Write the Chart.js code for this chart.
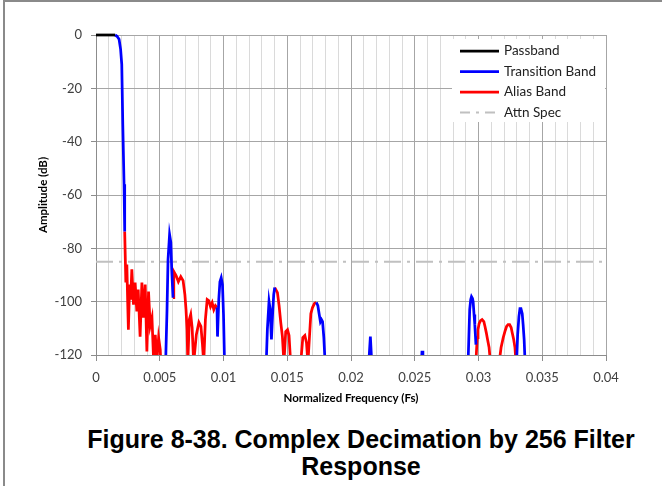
<!DOCTYPE html>
<html>
<head>
<meta charset="utf-8">
<script src="https://cdn.jsdelivr.net/npm/chart.js@4.4.1/dist/chart.umd.min.js"></script>
<style>
    html, body { margin: 0; padding: 0; width: 662px; height: 486px; overflow: hidden; background: #fff; }
    #frame { position: absolute; left: 3px; top: 0; width: 760px; height: 486px; border-left: 2px solid #8a8a8a; border-top: 2px solid #8a8a8a; }
    #chart { position: absolute; left: 0; top: 0; }
    #caption { position: absolute; left: 0; top: 426px; width: 722px; text-align: center; color: #000;
        font: bold 25px "Liberation Sans", Arial, sans-serif; line-height: 27px; }
</style>
</head>
<body>
<div id="frame"></div>
<canvas id="chart" width="662" height="410"></canvas>
<div id="caption">Figure 8-38. Complex Decimation by 256 Filter<br>Response</div>
<script>
// --- dados (frequência normalizada em Fs, amplitude em dB) ---
const xTickLabels = ['0', '0.005', '0.01', '0.015', '0.02', '0.025', '0.03', '0.035', '0.04'];

const passFreq = [0, 0.0015];
const passDb = [0, 0];

// null separa os trechos
const transFreq = [
    0.0015, 0.00165, 0.00181, 0.00193, 0.00202, 0.0021, 0.0022, 0.00225, null,
    0.00545, 0.00557, 0.00565, 0.00577, 0.00587, 0.00594, 0.00604, null,
    0.00949, 0.00953, 0.00963, 0.00972, 0.00982, 0.00992, 0.01, 0.01009, null,
    0.01334, 0.01344, 0.01357, 0.01366, 0.01376, 0.01386, 0.01394, 0.01402, null,
    0.01728, 0.0174, 0.0175, 0.0176, 0.01768, 0.01777, 0.01787, 0.01799, null,
    0.02137, 0.02152, 0.02165, null,
    0.0255, 0.02557, 0.02564, null,
    0.02917, 0.02925, 0.02931, 0.02939, 0.02945, 0.02953, 0.02958, 0.02965, 0.02971, 0.0298, null,
    0.03297, 0.03307, 0.03317, 0.03325, 0.03333, 0.03343, 0.0335, 0.03358, 0.03367
];
const transDb = [
    0, -0.5, -1.6, -5.4, -11, -33.5, -56, -73.7, null,
    -125, -103, -84.2, -74.8, -77.8, -88, -98.5, null,
    -102.2, -113.1, -99.2, -92.5, -91, -93.6, -104.8, -125, null,
    -125, -110.5, -99.9, -102.9, -114.2, -103.7, -97.3, -94.7, null,
    -100.3, -101.5, -104.5, -107.5, -106.7, -107.5, -113.5, -125, null,
    -125, -113.1, -125, null,
    -125, -118.4, -125, null,
    -125, -112.4, -103, -99.2, -98.1, -98.8, -100, -104.8, -108.6, -116.1, null,
    -125, -112.4, -105.6, -102.6, -102.6, -104.5, -108.6, -114.2, -125
];

const aliasFreq = [
    0.00225, 0.00234, 0.00242, 0.00248, 0.00254, 0.00264, 0.00272, 0.00281, 0.00294, 0.00307,
    0.0032, 0.00331, 0.00346, 0.0036, 0.00372, 0.00386, 0.00399, 0.00412, 0.00425, 0.00439,
    0.00451, 0.00465, 0.00478, 0.00491, 0.00504, 0.0051, null,
    0.00604, 0.0061, 0.00628, 0.00646, 0.00665, 0.00683, 0.00697, 0.00706, 0.00714, 0.0072,
    0.00732, 0.00743, 0.00754, 0.00766, 0.00787, 0.00807, 0.00823, 0.00835, 0.00845, 0.00858,
    0.00872, 0.00884, 0.00898, 0.00911, 0.00924, 0.00937, 0.00949, null,
    0.01402, 0.01423, 0.01436, 0.01449, 0.01462, 0.01474, 0.01488, 0.01502, 0.01514, 0.01528,
    0.01567, 0.01604, 0.01622, 0.01638, 0.01651, 0.01662, 0.01673, 0.01685, 0.01698, 0.01713, 0.01728, null,
    0.02978, 0.0299, 0.02996, 0.03005, 0.03016, 0.03028, 0.03042, 0.03051, 0.03061, 0.03071,
    0.03083, 0.03096, 0.03128, 0.03159, 0.03177, 0.03194, 0.03209, 0.0322, 0.03232, 0.03244,
    0.03256, 0.03264, 0.03276, 0.03286, 0.03296
];
const aliasDb = [
    -73.7, -92.8, -86.1, -99.2, -110.5, -93.6, -99.2, -87.9, -101.1, -92.8,
    -103.7, -95.5, -113.1, -92.8, -106, -93.6, -118.7, -96.2, -109, -106,
    -121, -112.4, -122, -113.5, -118, -125, null,
    -98.5, -88.7, -90.2, -92.5, -90.6, -92.1, -97.3, -103, -110.5, -123,
    -106.7, -104.8, -109.7, -123, -112.4, -107.8, -109.3, -116.1, -123, -106.7,
    -99.2, -99.6, -101.9, -100.4, -103, -101.5, -102.2, null,
    -94.7, -96.6, -101.5, -107.8, -113.1, -123, -111.2, -110.5, -112.7, -124,
    -140, -124, -113.5, -112.7, -115.4, -123, -114.2, -104.5, -102.2, -100.7, -100.3, null,
    -124, -113.5, -110.5, -108.2, -107.1, -106.7, -107.5, -109.3, -111.6, -114.2,
    -117.2, -124, -140, -124, -117.2, -113.5, -110.9, -109.3, -108.6, -108.6,
    -109.7, -111.6, -114.2, -117.2, -124
];

const specFreq = [0, 0.04];
const specDb = [-85, -85];

function toPoints(freq, db) {
    return freq.map((f, i) => ({ x: f, y: db[i] }));
}

function isMajor(v) {
    return Math.round(v * 1000) % 5 === 0;
}

// legenda desenhada dentro da área do gráfico, como no original
const legendBox = {
    id: 'legendBox',
    afterDraw(chart) {
        const ctx = chart.ctx;
        const area = chart.chartArea;
        const w = 153, h = 83;
        const x0 = area.right - w - 1, y0 = area.top + 4;
        ctx.save();
        ctx.fillStyle = '#ffffff';
        ctx.fillRect(x0, y0, w, h);
        ctx.font = '13.5px Lato';
        ctx.textBaseline = 'middle';
        chart.data.datasets.forEach((ds, i) => {
            const y = y0 + 12 + i * 20.5;
            ctx.strokeStyle = ds.borderColor;
            ctx.lineWidth = ds.borderWidth;
            ctx.setLineDash(ds.legendDash || []);
            ctx.beginPath();
            ctx.moveTo(x0 + 8, y);
            ctx.lineTo(x0 + 47, y);
            ctx.stroke();
            ctx.fillStyle = '#222222';
            ctx.fillText(ds.label, x0 + 52, y);
        });
        ctx.restore();
    }
};

const lineClip = { left: 2, top: 3, right: 0, bottom: 0 };

new Chart(document.getElementById('chart'), {
    type: 'line',
    data: {
        datasets: [
            { label: 'Passband', data: toPoints(passFreq, passDb), borderColor: '#000000', borderWidth: 2.75, pointRadius: 0, clip: lineClip },
            { label: 'Transition Band', data: toPoints(transFreq, transDb), borderColor: '#0000ff', borderWidth: 2.75, pointRadius: 0, clip: lineClip },
            { label: 'Alias Band', data: toPoints(aliasFreq, aliasDb), borderColor: '#ff0000', borderWidth: 2.75, pointRadius: 0, clip: lineClip },
            { label: 'Attn Spec', data: toPoints(specFreq, specDb), borderColor: '#c0c0c0', borderWidth: 2, pointRadius: 0,
              borderDash: [17, 6, 3, 6], legendDash: [10, 6, 3, 6], order: 5 }
        ]
    },
    options: {
        responsive: false,
        animation: false,
        spanGaps: false,
        layout: { padding: { left: 32, right: 56, top: 35, bottom: 0 } },
        plugins: { legend: { display: false }, tooltip: { enabled: false } },
        font: { family: 'Lato' },
        scales: {
            x: {
                type: 'linear',
                min: 0,
                max: 0.04,
                afterFit: (s) => { s.height = 55; },
                border: { color: '#8c8c8c', width: 1 },
                grid: {
                    color: (c) => isMajor(c.tick.value) ? '#a6a6a6' : '#dadada',
                    lineWidth: 1,
                    tickLength: 6,
                    tickColor: (c) => isMajor(c.tick.value) ? '#8c8c8c' : 'rgba(0,0,0,0)'
                },
                ticks: {
                    stepSize: 0.001,
                    maxTicksLimit: 60,
                    autoSkip: false,
                    maxRotation: 0,
                    padding: 9,
                    color: '#404040',
                    font: { family: 'Lato', size: 13 },
                    callback: (v) => {
                        const k = Math.round(v * 1000);
                        return k % 5 === 0 ? xTickLabels[k / 5] : '';
                    }
                },
                title: {
                    display: true,
                    text: 'Normalized Frequency (Fs)',
                    color: '#000000',
                    font: { family: 'Lato', size: 11.5, weight: 'bold' },
                    padding: { top: 0, bottom: 5 }
                }
            },
            y: {
                min: -120,
                max: 0,
                afterFit: (s) => { s.width = 64; },
                border: { color: '#8c8c8c', width: 1 },
                grid: { color: '#a6a6a6', lineWidth: 1, tickLength: 5, tickColor: '#8c8c8c' },
                ticks: {
                    stepSize: 20,
                    padding: 9,
                    color: '#404040',
                    font: { family: 'Lato', size: 13 }
                },
                title: {
                    display: true,
                    text: 'Amplitude (dB)',
                    color: '#000000',
                    font: { family: 'Lato', size: 11.5, weight: 'bold' },
                    padding: { top: 4, bottom: 0 }
                }
            }
        }
    },
    plugins: [legendBox]
});
</script>
</body>
</html>
